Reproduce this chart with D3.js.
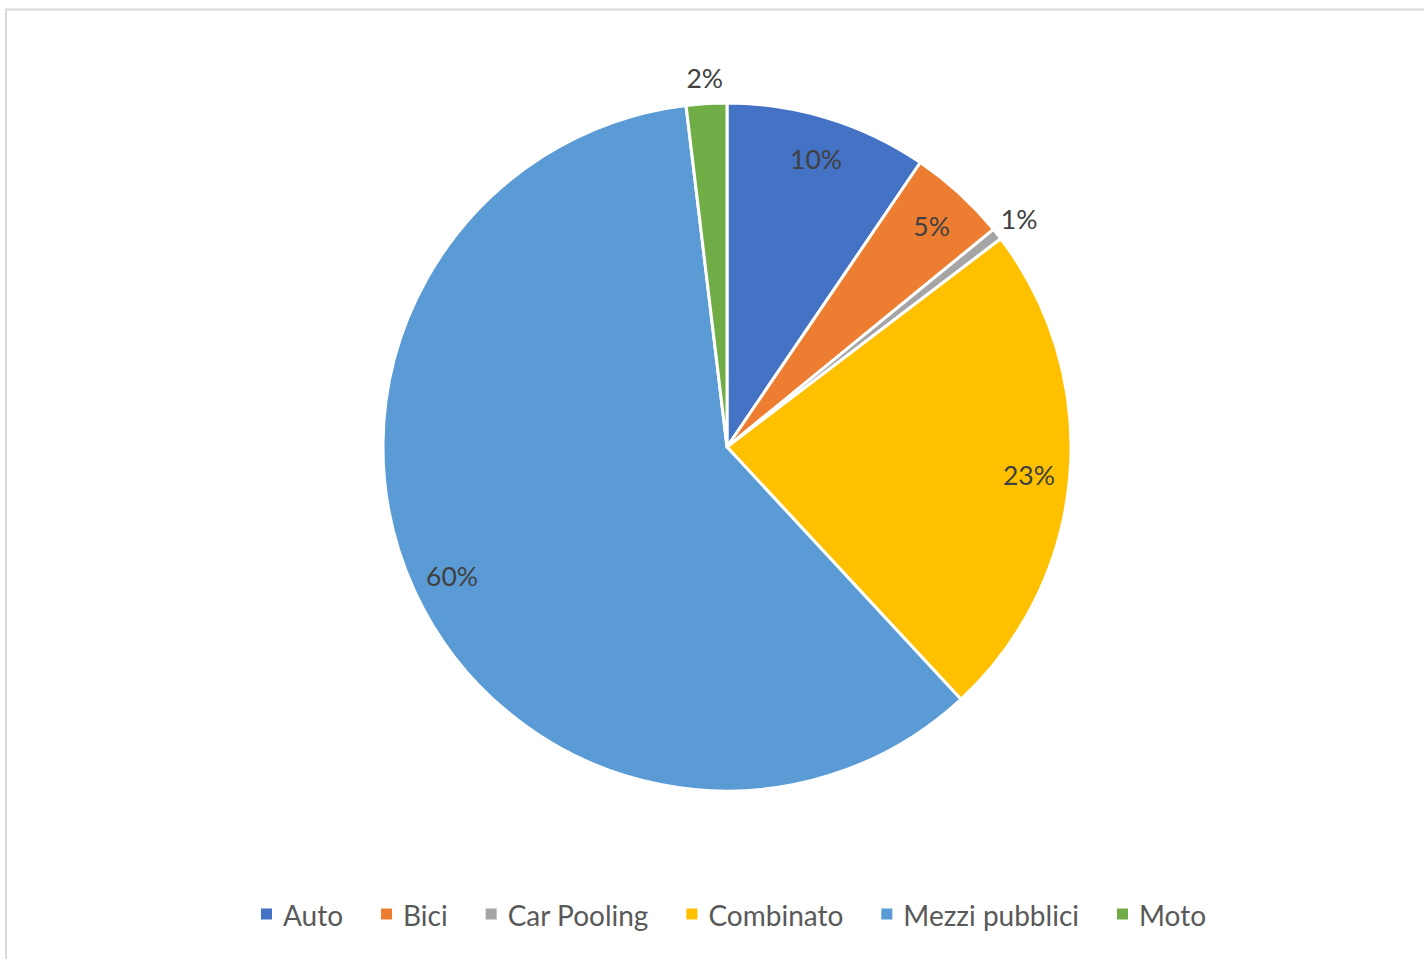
<!DOCTYPE html>
<html>
<head>
<meta charset="utf-8">
<script src="https://cdn.jsdelivr.net/npm/d3@7"></script>
<style>
  html, body { margin: 0; padding: 0; background: #fff; }
  svg { display: block; }
</style>
</head>
<body>
<svg id="chart" width="1424" height="959"></svg>
<script>
// Modal split of commuting trips (share of respondents, %)
const categories = ["Auto", "Bici", "Car Pooling", "Combinato", "Mezzi pubblici", "Moto"];
const shares = [9.5, 4.6, 0.55, 23.45, 60.0, 1.9];
const colors = ["#4472C4", "#ED7D31", "#A5A5A5", "#FFC000", "#5B9BD5", "#70AD47"];

const W = 1424, H = 959;
const svg = d3.select("#chart");

// chart area frame
svg.append("rect")
  .attr("x", 6).attr("y", 9.5)
  .attr("width", W + 20).attr("height", H + 20)
  .attr("fill", "#fff")
  .attr("stroke", "#d9d9d9").attr("stroke-width", 2);

const cx = 727, cy = 447, R = 344;
const total = d3.sum(shares);
const data = categories.map((c, i) => ({ name: c, value: shares[i], color: colors[i] }));

const pie = d3.pie().value(d => d.value).sort(null);
const arcs = pie(data);
const arc = d3.arc().innerRadius(0).outerRadius(R);

const g = svg.append("g").attr("transform", `translate(${cx},${cy})`);

g.selectAll("path.slice")
  .data(arcs)
  .join("path")
  .attr("class", "slice")
  .attr("d", arc)
  .attr("fill", d => d.data.color)
  .attr("stroke", "#fff")
  .attr("stroke-width", 3)
  .attr("stroke-linejoin", "round");

// data labels: inside near the rim, small slices outside
const inner = d3.arc().innerRadius(303).outerRadius(303);
const outer = d3.arc().innerRadius(372).outerRadius(372);
const fmt = v => Math.round(v / total * 100) + "%";

g.selectAll("text.lbl")
  .data(arcs)
  .join("text")
  .attr("class", "lbl")
  .attr("transform", d => {
    const pct = d.data.value / total * 100;
    const p = (pct < 3 ? outer : inner).centroid(d);
    return `translate(${p[0]},${p[1] + 2})`;
  })
  .attr("text-anchor", "middle")
  .attr("dominant-baseline", "central")
  .attr("font-family", "Lato, 'Open Sans', sans-serif")
  .attr("font-size", 26.5)
  .attr("fill", "#404040")
  .text(d => fmt(d.data.value));

// legend
const legend = svg.append("g");
const lgFont = 28, sq = 11, sqGap = 11, itemGap = 38, lgY = 914;
let x = 0;
data.forEach(d => {
  const it = legend.append("g");
  it.append("rect")
    .attr("width", sq).attr("height", sq)
    .attr("y", lgY - sq / 2)
    .attr("fill", d.color);
  const t = it.append("text")
    .attr("x", sq + sqGap)
    .attr("y", lgY + 1)
    .attr("dominant-baseline", "central")
    .attr("font-family", "Lato, 'Open Sans', sans-serif")
    .attr("font-size", lgFont)
    .attr("fill", "#595959")
    .text(d.name);
  const w = sq + sqGap + t.node().getComputedTextLength();
  it.attr("transform", `translate(${x},0)`);
  x += w + itemGap;
});
const lgWidth = x - itemGap;
legend.attr("transform", `translate(${733.5 - lgWidth / 2},0)`);
</script>
</body>
</html>
